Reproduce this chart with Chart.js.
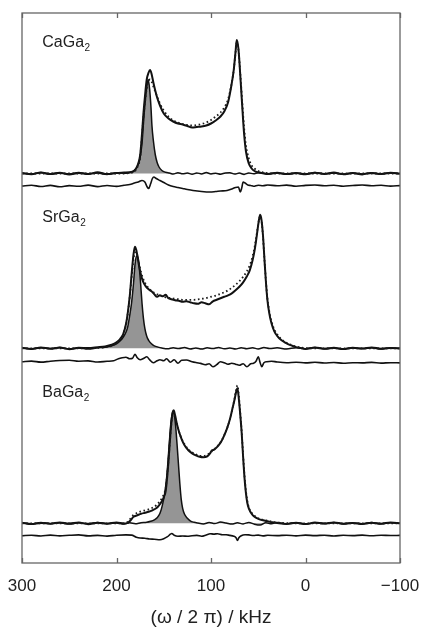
<!DOCTYPE html>
<html>
<head>
<meta charset="utf-8">
<script src="https://cdn.jsdelivr.net/npm/chart.js@4.4.1/dist/chart.umd.min.js"></script>
<style>
  html, body { margin: 0; padding: 0; background: #fff; }
  canvas { display: block; }
</style>
</head>
<body>
<canvas id="c" width="422" height="630"></canvas>
<script>
// 69Ga NMR spectra. x = (omega / 2 pi) in kHz, y = intensity (a.u.)
const xTicks = [300, 200, 100, 0, -100];
const compounds = ['CaGa', 'SrGa', 'BaGa'];

// CaGa2
const caKHz = [300,290,280,270,260,250,240,230,220,210,200,192,186,181,178,175,173,171.5,170,168,166,164.5,163,161,159,157,154,150,145,140,135,130,125,120,115,110,105,100,95,90,86,82,79,76,74,72.8,71,69,67,65,63,60,57,54,50,45,40,30,20,10,0,-10,-20,-30,-40,-50,-60,-70,-80,-90,-100];
const caExp = [0.5,-0.8,1.0,-0.5,0.8,-1.0,0.6,-0.4,1.2,-0.6,
  0.4,1.0,1.2,3,7.5,18,40,60,76,94,
  101,103.5,100,91,83,76,68,60,55,52,
  50,49,47.5,46,46.5,47,48,50,53,57,
  62,71,85,103,122,133.5,125,98,68,40,
  22,10,5,2.5,1.2,0.3,-0.5,0.8,-0.6,0.5,
  -0.8,0.7,-0.4,0.9,-0.7,0.4,-0.9,0.6,-0.5,0.8,0];
const caFit = [0,0,0,0,0,0,0,0,0,0,
  0,0,0.5,2,6,16,38,56,70,85,
  92,94,92,87,82,77,70,63,57,53,
  51,49.5,48.5,48,48.5,49.5,51,53.5,57,61,
  66,74,86,103,121,131,124,100,72,46,
  28,15,8,5,2.5,1,0.3,0,0,0,
  0,0,0,0,0,0,0,0,0,0,0];
const caSiteKHz = [300,290,280,270,260,250,240,230,220,210,200,190,185,181,178,175.5,173,171.5,170,168,166.5,165,163.5,162.5,161,159,157,155,152,148,144,140,135,130,125,120,115,110,105,100,95,90,85,80,75,70,65,60,55,50,40,30,20,10,0,-10,-20,-30,-40,-50,-60,-70,-80,-90,-100];
const caSite = [0.3,-0.6,0.9,-0.8,0.5,-0.4,1.1,-0.7,0.6,-0.9,
  0.7,0.2,1.2,3,7,14,30,50,68,86,
  94,85,66,48,33,19,11,6.5,3,1.2,
  0.4,-0.6,0.8,-0.3,0.5,-0.8,0.6,-0.4,0.9,-0.5,
  0.3,-0.7,0.5,0.8,-0.6,0.4,-0.9,0.6,-0.3,0.8,
  -0.5,0.6,-0.8,0.4,-0.6,0.9,-0.3,0.5,-0.8,0.6,
  -0.4,0.7,-0.6,0.4,-0.2];
const caDiffKHz = [300,290,280,270,260,250,240,230,220,210,200,192,186,181,177,173,170,167.5,166,164,162,160.5,158,154,150,145,140,135,130,125,119,110,101,95,90,83,78,74,71,69,67.5,66,64,61,58,55,50,45,40,30,20,10,0,-10,-20,-30,-40,-50,-60,-70,-80,-90,-100];
const caDiff = [0,0.8,-0.5,0.6,-0.8,0.4,-0.3,0.9,-0.6,0.5,
  -0.4,0.8,1.5,3,4,5.5,4,-1,-2.5,2,
  7.5,9,7.5,5.5,3.5,1,-0.5,-1.5,-2.5,-3.5,
  -4.5,-5.5,-6,-5.5,-5,-4.5,-3,-1.5,-1,-6,
  -2,4,3,1,0.5,-0.3,0.8,0.3,1,0.2,
  0.9,-0.2,0.6,1,0.3,0.8,-0.2,0.5,1,0.2,
  0.7,-0.1,0.4];

// SrGa2
const srKHz = [300,290,280,270,260,250,240,230,220,212,205,200,196,193,190,188,186,184,182,180.5,179,177.5,176,174,172,169,166,163,160,157,154,151,148,145,142,138,134,130,126,122,118,114,110,106,102,98,94,90,86,82,78,74,70,66,62,59,56,53.5,51.5,49.5,48,46.5,45,43.5,42,40.5,38.5,36,33,30,26,22,18,14,10,5,0,-10,-20,-30,-40,-50,-60,-70,-80,-90,-100];
const srExp = [0.5,-0.7,0.9,-0.4,0.7,-0.9,0.5,0.2,1.0,1.8,
  3.5,6,9.5,14,24,36,52,74,94,101.5,
  98,90,82,73,67,62,59,57,54,51.5,
  53,52,53.5,50,49,48,47.5,46.5,47,46,
  45,44.5,46,45,44,47,48.5,50,51.5,53,
  55,58,61.5,66,72,78,88,100,113,127,
  133.5,128,113,90,68,50,36,25,17,12.5,
  8.5,6,4,2.5,1.2,0.3,-0.6,0.8,-0.4,0.6,
  -0.8,0.5,-0.3,0.9,-0.5,0.4,-0.2];
const srFit = [0,0,0,0,0,0,0,0,0.3,1,
  2.5,5.5,9,14,23,35,51,71,89,96,
  96,91,84,76,70,64,60,57.5,55.5,54,
  53,52,51,50.5,50,49.5,49,48.5,48.5,48.5,
  48.5,49,49.5,50,51,52,53,54.5,56,58,
  60.5,63.5,67,71.5,77,83,92,103,115,127,
  132,127,112,90,69,52,38,27,19,14,
  9.5,6.5,4.5,3,1.8,0.8,0.3,0,0,0,
  0,0,0,0,0,0,0];
const srSiteKHz = [300,290,280,270,260,250,240,230,220,212,205,200,196,193,190,188,186,184,182,180.5,179,177.5,176,174.5,173,171.5,170,168,166,163,160,156,152,146,140,134,128,122,116,110,104,98,92,86,80,74,68,62,56,50,44,38,30,20,10,0,-10,-20,-30,-40,-50,-60,-70,-80,-90,-100];
const srSite = [0.4,-0.7,0.6,-0.3,0.8,-0.6,0.3,-0.8,0.5,1,
  2.5,4.5,7.5,11,16,22,33,46,65,83,
  92,92,82,65,45,30,20,12,8,4.5,
  2.5,1.2,0.3,-0.5,0.6,-0.3,0.7,-0.6,0.4,-0.8,
  0.5,-0.3,0.8,-0.5,0.3,-0.7,0.6,-0.4,0.5,-0.6,
  0.7,-0.3,0.5,-0.7,0.6,-0.4,0.8,-0.5,0.3,-0.7,
  0.6,-0.3,0.5,-0.8,0.4,0];
const srDiffKHz = [300,290,280,270,260,250,240,230,220,210,203,198,194,190,186,183,180.5,178,175,171,168,165,161,157,154,150,147,143,139,135,131,126,120,115,111,106,102,98,94,90,86,82,78,74,70,66,62,58,55,52,50,48,46.3,44,41,36,30,20,10,0,-10,-20,-30,-40,-50,-60,-70,-80,-90,-100];
const srDiff = [0,0.6,-0.4,0.5,1.2,1.5,0.5,0.8,-0.3,0.4,
  0.9,3,4,4.5,3,3.5,7.5,4,2,3.5,
  5,2,-1,1,2,1,3,-0.5,2,-1.5,
  1.5,1.7,0,-1,-1.7,-3,-2,-5,-3,0,
  -1,-2.5,-1.5,-2.5,-3.5,-2,-5,-2,-1.5,1,
  5,-1,-5,-1,0,0.5,-0.3,-1,-0.5,-1.2,
  -0.6,-1.3,-0.8,-1.5,-1,-1.2,-0.7,-1.4,-1,-1.2];

// BaGa2
const baKHz = [300,290,280,270,260,250,240,230,220,210,200,192,188,185,182,178,174,170,166,162,158,155,152,150,148,146.5,145,143.5,142,140.5,139.5,138,136,134,131,128,124,120,116,112,108,104,101,99,97,95,92,89,86,83,80,77,75,73.5,72,70.5,69,67.5,66,64.5,63,61.5,60,57,54,50,45,40,35,30,20,10,0,-10,-20,-30,-40,-50,-60,-70,-80,-90,-100];
const baExp = [0.6,-0.8,0.4,-0.5,0.9,-0.3,0.7,-0.9,0.5,-0.4,
  0.8,-0.2,0.5,3,6.5,8,9.5,10.5,11.5,13,
  15,18,22,26,32,45,62,82,100,111,
  113,108,99,92,84,78,73,70,68,66.5,
  66,67,70,73,73.5,75,78,82,88,95,
  104,116,124,131,135,124,108,90,66,45,
  30,20,15,9.5,6.5,4.5,3,2,1,0.3,
  -0.6,0.5,-0.8,0.7,-0.3,0.9,-0.5,0.4,-0.7,0.6,
  -0.4,0.8,0];
const baFit = [0,0,0,0,0,0,0,0,0,0,
  0,0,1.5,5,8.5,10.5,12,13,14,15.5,
  18,21,25,29,35,47,63,82,99,109,
  111,107,99,92,84.5,79,74,71,69,67.5,
  67.5,68.5,70.5,72,73.5,75.5,78.5,82.5,88,95,
  104,116,125,133,138,127,110,91,68,47,
  32,22,16,10.5,7.5,5,3.5,2.5,1.5,0.8,
  0.2,0,0,0,0,0,0,0,0,0,
  0,0,0];
const baSiteKHz = [300,290,280,270,260,250,240,230,220,210,200,192,186,180,174,168,164,160,157,154,151.5,149,147,145.5,144,142.5,141,140,139,137.5,136,134.5,133,131.5,130,128,125,122,118,114,108,102,96,90,84,78,72,66,60,54,48,42,36,30,20,10,0,-10,-20,-30,-40,-50,-60,-70,-80,-90,-100];
const baSite = [0.3,-0.6,0.8,-0.4,0.5,-0.8,0.6,-0.3,0.9,-0.5,
  0.4,-0.7,0.5,-0.4,0.6,1,2,3.5,5.5,10,
  18,30,45,62,82,100,110,112,110,98,
  80,60,40,24,15,9,5,2.5,1,0.2,
  -0.6,0.8,-0.3,1.2,0.3,-0.8,0.5,-0.6,0.9,-0.9,
  -1.8,0.6,-0.4,0.7,-0.5,0.6,-0.7,0.5,-0.3,0.8,
  -0.6,0.4,-0.5,0.7,-0.4,0.6,0];
const baDiffKHz = [300,290,280,270,260,250,240,230,220,210,200,190,184,179,175,170,165,160,154,150,146,143,141.5,139,135,130,125,120,115,110,105,101,97,93,88,84,80,76,73.5,72,70.5,68,64,60,55,50,45,40,30,20,10,0,-10,-20,-30,-40,-50,-60,-70,-80,-90,-100];
const baDiff = [0,0.5,-0.3,0.6,-0.2,0.4,0.8,-0.2,0.3,-0.4,
  0.5,0.8,0.6,-1.5,-2.3,-2.5,-3.3,-3.5,-4,-3,
  -1,1.5,2.2,0.5,-0.5,-0.3,-0.6,0,0.3,-0.5,
  0.8,2,1.6,2,1,1,0.3,-0.5,-2,-4.7,
  -2,0,1,0.8,0.2,0.6,-0.2,0.4,0.1,0.5,
  -0.2,0.6,0.1,0.5,-0.3,0.4,0.1,0.6,-0.1,0.4,
  0.2,0.3];

// vertical stacking of the three spectra (baseline of spectrum / of difference curve)
const FONT = '"Liberation Sans", Arial, Helvetica, sans-serif';
const panels = [
  { kHz: caKHz, exp: caExp, fit: caFit, siteKHz: caSiteKHz, site: caSite, diffKHz: caDiffKHz, diff: caDiff, base: 389.5, diffBase: 377 },
  { kHz: srKHz, exp: srExp, fit: srFit, siteKHz: srSiteKHz, site: srSite, diffKHz: srDiffKHz, diff: srDiff, base: 214.7, diffBase: 201.3 },
  { kHz: baKHz, exp: baExp, fit: baFit, siteKHz: baSiteKHz, site: baSite, diffKHz: baDiffKHz, diff: baDiff, base: 39.7, diffBase: 27.3 },
];
const LABEL_KHZ = 278.5;
const LABEL_RISE = 126.7;

function pts(xs, ys, off) {
  return xs.map((x, i) => ({ x, y: ys[i] + off }));
}

const line = { pointRadius: 0, fill: false, cubicInterpolationMode: 'monotone' };
const fits = [], exps = [], diffs = [], sites = [];
panels.forEach(p => {
  fits.push({ ...line, data: pts(p.kHz, p.fit, p.base), borderColor: '#1a1a1a', borderWidth: 1.8, borderDash: [1.6, 2.6] });
  exps.push({ ...line, data: pts(p.kHz, p.exp, p.base), borderColor: '#111', borderWidth: 2 });
  diffs.push({ ...line, data: pts(p.diffKHz, p.diff, p.diffBase), borderColor: '#111', borderWidth: 1.6 });
  sites.push({ ...line, data: pts(p.siteKHz, p.site, p.base), borderColor: '#111', borderWidth: 1.5,
    fill: { value: p.base }, backgroundColor: '#959595' });
});

const framePlugin = {
  id: 'frame',
  afterDatasetsDraw(chart) {
    const { ctx, chartArea: a, scales } = chart;
    ctx.save();
    // compound labels
    ctx.fillStyle = '#222';
    ctx.textBaseline = 'alphabetic';
    panels.forEach((p, i) => {
      const px = scales.x.getPixelForValue(LABEL_KHZ);
      const py = scales.y.getPixelForValue(p.base + LABEL_RISE);
      ctx.font = '16px ' + FONT;
      ctx.fillText(compounds[i], px, py);
      const w = ctx.measureText(compounds[i]).width;
      ctx.font = '10px ' + FONT;
      ctx.fillText('2', px + w + 0.5, py + 4);
    });
    // frame and inward ticks
    ctx.strokeStyle = '#666';
    ctx.lineWidth = 1.3;
    ctx.strokeRect(a.left, a.top, a.right - a.left, a.bottom - a.top);
    scales.x.ticks.forEach(t => {
      const x = Math.round(scales.x.getPixelForValue(t.value)) + 0.5;
      ctx.beginPath();
      ctx.moveTo(x, a.bottom); ctx.lineTo(x, a.bottom - 5);
      ctx.moveTo(x, a.top); ctx.lineTo(x, a.top + 5);
      ctx.stroke();
    });
    ctx.restore();
  }
};

new Chart(document.getElementById('c'), {
  type: 'line',
  data: { datasets: [...fits, ...exps, ...diffs, ...sites] },
  options: {
    responsive: false,
    devicePixelRatio: 1,
    animation: false,
    layout: { padding: { left: 22, right: 22, top: 13, bottom: 0 } },
    plugins: { legend: { display: false }, tooltip: { enabled: false } },
    scales: {
      x: {
        type: 'linear', min: -100, max: 300, reverse: true,
        afterBuildTicks: s => { s.ticks = xTicks.map(v => ({ value: v })); },
        afterFit: s => { s.height = 67; s.paddingLeft = 0; s.paddingRight = 0; },
        grid: { display: false },
        border: { display: false },
        ticks: {
          color: '#222', padding: 5, maxRotation: 0,
          font: { family: FONT, size: 17 },
          callback: v => v < 0 ? '\u2212' + Math.abs(v) : String(v),
        },
        title: {
          display: true, text: '(\u03c9 / 2 \u03c0) / kHz', color: '#222',
          font: { family: FONT, size: 19 }, padding: { top: 0, bottom: 1 },
        },
      },
      y: { type: 'linear', min: 0, max: 550, display: false },
    },
  },
  plugins: [framePlugin],
});
</script>
</body>
</html>
